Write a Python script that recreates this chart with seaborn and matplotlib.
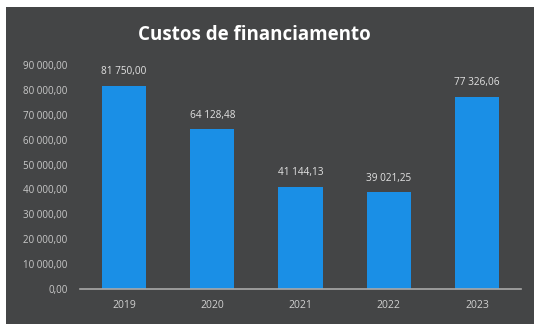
import matplotlib
matplotlib.use("Agg")
import matplotlib.pyplot as plt
import matplotlib.patches as mpatches
import seaborn as sns
import pandas as pd

years = ["2019", "2020", "2021", "2022", "2023"]
costs = [81750.00, 64128.48, 41144.13, 39021.25, 77326.06]
y_ticks = [0, 10000, 20000, 30000, 40000, 50000, 60000, 70000, 80000, 90000]


def pt_number(v):
    s = f"{v:,.2f}"
    return s.replace(",", " ").replace(".", ",")


sns.set_theme(style="dark")
plt.rcParams["font.family"] = ["Open Sans", "DejaVu Sans"]

bg = "#444546"
fig = plt.figure(figsize=(5.34, 3.24), dpi=100)
fig.patch.set_facecolor("white")
fig.add_artist(mpatches.Rectangle((6 / 534, 0), 1, 1 - 7 / 324,
                                  transform=fig.transFigure,
                                  facecolor=bg, edgecolor="none", zorder=0))

ax = fig.add_axes([80 / 534, 1 - 289 / 324, 441 / 534, 224 / 324])
ax.set_facecolor(bg)

df = pd.DataFrame({"ano": years, "custo": costs})
sns.barplot(data=df, x="ano", y="custo", color="#1a8fe6", width=0.5,
            saturation=1, ax=ax, edgecolor="none")

ax.set_ylim(0, 90000)
ax.set_xlim(-0.5, 4.5)
ax.set_yticks(y_ticks)
ax.set_yticklabels([pt_number(t) for t in y_ticks])
ax.tick_params(axis="y", labelsize=7, colors="#c9c9c9", length=0, pad=9)
ax.tick_params(axis="x", labelsize=7.5, colors="#d0d0d0", length=0, pad=8)
ax.set_xlabel("")
ax.set_ylabel("")
ax.grid(False)
for side in ["top", "right", "left"]:
    ax.spines[side].set_visible(False)
ax.spines["bottom"].set_color("#a9a9a9")
ax.spines["bottom"].set_linewidth(1.2)

for i, v in enumerate(costs):
    ax.annotate(pt_number(v), (i, v), xytext=(0, 6), textcoords="offset points",
                ha="center", va="bottom", fontsize=7.2, color="#e2e2e2")

fig.text(254 / 534, 1 - 35 / 324, "Custos de financiamento", ha="center",
         va="center", fontsize=13.5, fontweight="bold", color="white")

fig.savefig("out.png", dpi=100, facecolor=fig.get_facecolor())
